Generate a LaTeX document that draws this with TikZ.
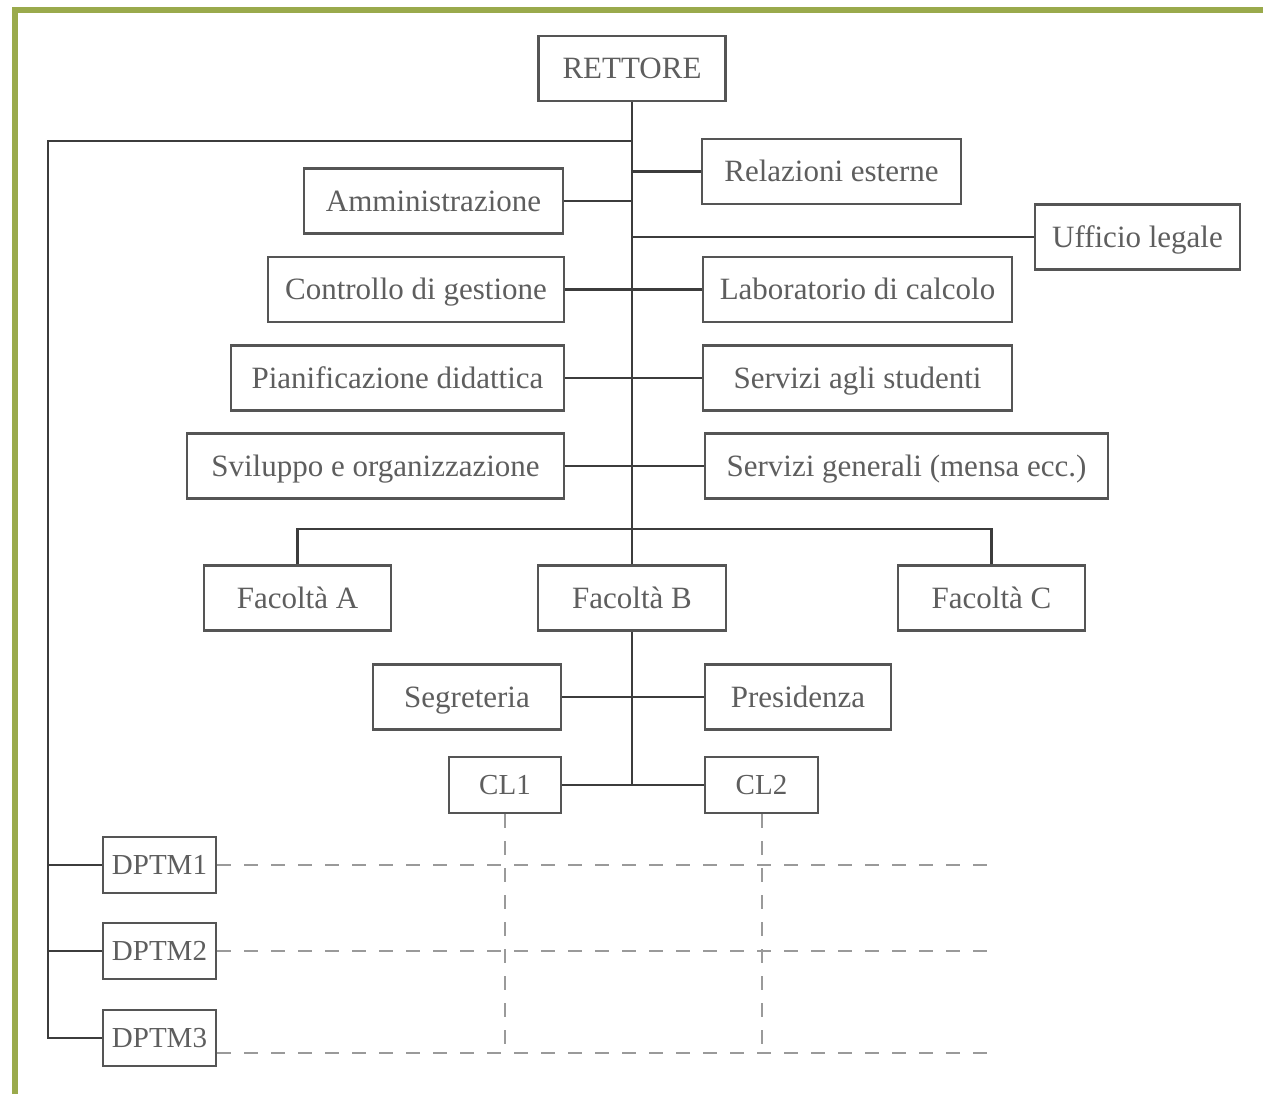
\documentclass[tikz,border=0pt]{standalone}
\usepackage{fontspec}
\setmainfont{Liberation Serif}
\definecolor{frame}{HTML}{9AAA4C}
\definecolor{boxline}{HTML}{555555}
\definecolor{txt}{HTML}{5E5E5E}
\definecolor{linkc}{HTML}{3C3C3C}
\definecolor{dashc}{HTML}{9A9A9A}

\begin{document}
\begin{tikzpicture}[x=1pt,y=-1pt,
  unit/.style={draw=boxline, line width=2.8pt, text=txt, inner sep=0pt,
    font=\fontsize{31}{36}\selectfont, minimum height=65pt,
    text height=21pt, text depth=0.5pt},
  small/.style={unit, minimum height=56pt, font=\fontsize{29}{34}\selectfont,
    text height=20pt, text depth=1pt},
  link/.style={draw=linkc, line width=2.8pt},
  grid/.style={draw=dashc, line width=2pt, dash pattern=on 14pt off 13pt}]

  % page and frame
  \fill[white] (0,0) rectangle (1263,1094);
  \useasboundingbox (0,0) rectangle (1263,1094);
  \draw[frame, line width=6pt] (15,1094) -- (15,10) -- (1263,10);

  % units
  \node[unit, minimum width=187pt] (ret) at (632,68.5) {RETTORE};
  \node[unit, minimum width=259pt] (rel) at (831.5,171.5) {Relazioni esterne};
  \node[unit, minimum width=259pt] (amm) at (433.5,201) {Amministrazione};
  \node[unit, minimum width=205pt] (uff) at (1137.5,237) {Ufficio legale};
  \node[unit, minimum width=296pt] (con) at (416,289.5) {Controllo di gestione};
  \node[unit, minimum width=309pt] (lab) at (857.5,289.5) {Laboratorio di calcolo};
  \node[unit, minimum width=333pt] (pia) at (397.5,378) {Pianificazione didattica};
  \node[unit, minimum width=309pt] (ser) at (857.5,378) {Servizi agli studenti};
  \node[unit, minimum width=377pt] (svi) at (375.5,466) {Sviluppo e organizzazione};
  \node[unit, minimum width=403pt] (gen) at (906.5,466) {Servizi generali (mensa ecc.)};
  \node[unit, minimum width=187pt] (fa) at (297.5,598) {Facoltà A};
  \node[unit, minimum width=188pt] (fb) at (632,598) {Facoltà B};
  \node[unit, minimum width=187pt] (fc) at (991.5,598) {Facoltà C};
  \node[unit, minimum width=188pt] (seg) at (467,697) {Segreteria};
  \node[unit, minimum width=186pt] (pre) at (798,697) {Presidenza};
  \node[small, minimum width=112pt] (cl1) at (505,785) {CL1};
  \node[small, minimum width=113pt] (cl2) at (761.5,785) {CL2};
  \node[small, minimum width=113pt] (d1) at (159.5,865) {DPTM1};
  \node[small, minimum width=113pt] (d2) at (159.5,951) {DPTM2};
  \node[small, minimum width=113pt] (d3) at (159.5,1038) {DPTM3};

  % helper points
  \coordinate (lk) at (48,141);
  \coordinate (fbar) at (632,529);
  \coordinate (e1) at (993,865);
  \coordinate (e2) at (993,951);
  \coordinate (e3) at (993,1053);

  % central trunk and staff branches
  \draw[link] (ret.south) -- (fb.north);
  \draw[link] (ret.south |- rel.west) -- (rel.west);
  \draw[link] (amm.east) -- (amm.east -| ret.south);
  \draw[link] (ret.south |- uff.west) -- (uff.west);
  \draw[link] (con.east) -- (lab.west);
  \draw[link] (pia.east) -- (ser.west);
  \draw[link] (svi.east) -- (gen.west);

  % faculties
  \draw[link] (fa.north) -- (fa.north |- fbar) -- (fc.north |- fbar) -- (fc.north);
  \draw[link] (fb.south) -- (fb.south |- cl1.east);
  \draw[link] (seg.east) -- (pre.west);
  \draw[link] (cl1.east) -- (cl2.west);

  % departments
  \draw[link] (ret.south |- lk) -- (lk) -- (lk |- d3.west) -- (d3.west);
  \draw[link] (lk |- d1.west) -- (d1.west);
  \draw[link] (lk |- d2.west) -- (d2.west);

  % matrix grid
  \draw[grid] (d1.east) -- (e1);
  \draw[grid] (d2.east) -- (e2);
  \draw[grid] (d3.east |- e3) -- (e3);
  \draw[grid] (cl1.south) -- (cl1.south |- e3);
  \draw[grid] (cl2.south) -- (cl2.south |- e3);
\end{tikzpicture}
\end{document}
